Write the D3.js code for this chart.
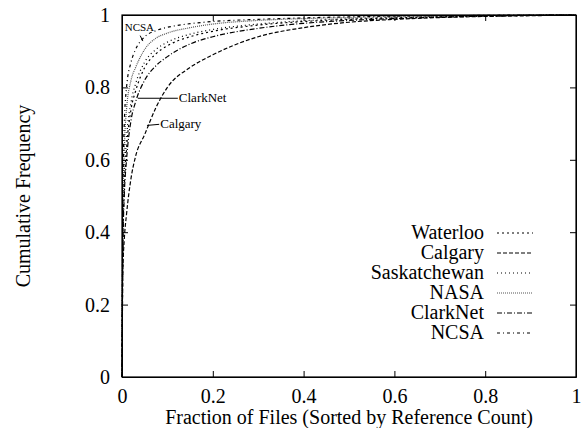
<!DOCTYPE html>
<html>
<head>
<meta charset="utf-8">
<script src="https://cdn.jsdelivr.net/npm/d3@7"></script>
<style>
  body { margin: 0; background: #fff; }
</style>
</head>
<body>
<svg></svg>
<script>
// shared x grid (fraction of files)
const fracs = [0, 0.002, 0.005, 0.01, 0.02, 0.03, 0.05, 0.075, 0.1, 0.15, 0.2, 0.3, 0.4, 0.5, 0.6, 0.7, 0.8, 0.9, 1.0]

// cumulative frequency per trace
const waterloo     = [0, 0.38, 0.52, 0.63, 0.74, 0.79, 0.855, 0.893, 0.915, 0.94, 0.955, 0.972, 0.982, 0.988, 0.992, 0.995, 0.997, 0.999, 1]
const calgary      = [0, 0.30, 0.38, 0.45, 0.55, 0.61, 0.67, 0.745, 0.80, 0.855, 0.89, 0.94, 0.965, 0.98, 0.988, 0.993, 0.996, 0.998, 1]
const saskatchewan = [0, 0.40, 0.55, 0.66, 0.76, 0.81, 0.87, 0.905, 0.925, 0.947, 0.96, 0.975, 0.984, 0.99, 0.994, 0.996, 0.998, 0.999, 1]
const nasa         = [0, 0.45, 0.62, 0.74, 0.82, 0.855, 0.905, 0.936, 0.95, 0.965, 0.975, 0.985, 0.99, 0.993, 0.996, 0.998, 0.999, 1, 1]
const clarknet     = [0, 0.36, 0.50, 0.60, 0.71, 0.76, 0.82, 0.86, 0.885, 0.92, 0.94, 0.963, 0.977, 0.985, 0.99, 0.994, 0.997, 0.999, 1]
const ncsa         = [0, 0.50, 0.70, 0.80, 0.87, 0.905, 0.94, 0.957, 0.966, 0.976, 0.982, 0.988, 0.992, 0.995, 0.997, 0.998, 0.999, 1, 1]

const seriesNames = ['Waterloo', 'Calgary', 'Saskatchewan', 'NASA', 'ClarkNet', 'NCSA']
const seriesVals = [waterloo, calgary, saskatchewan, nasa, clarknet, ncsa]
const dashes = ['2,3', '4,2', '1,3', '1,1', '5,2,1,2', '3,3,1,3']
const strokes = ['#000', '#000', '#000', '#555', '#000', '#000']

const xTicks = [0, 0.2, 0.4, 0.6, 0.8, 1]
const yTicks = [0, 0.2, 0.4, 0.6, 0.8, 1]
const tickText = d => (d === 0 || d === 1) ? String(d) : d.toFixed(1)

// annotation labels: [name, curve x, curve y, label x, label y]
const notes = [
    ['ClarkNet', 0.035, 0.77, 0.123, 0.77],
    ['Calgary', 0.055, 0.695, 0.082, 0.698]
]

const FONT = '"Liberation Serif", "Times New Roman", Times, "DejaVu Serif", serif'

let svgWidth = 582
let svgHeight = 428
const plotL = 122, plotR = 576, plotT = 15, plotB = 377

const svg = d3.select('svg')
    .attr('width', svgWidth)
    .attr('height', svgHeight)
    .attr('font-family', FONT)

const xScale = d3.scaleLinear().domain([0, 1]).range([plotL, plotR])
const yScale = d3.scaleLinear().domain([0, 1]).range([plotB, plotT])

// curves
const line = d3.line()
    .x(d => xScale(d[0]))
    .y(d => yScale(d[1]))
    .curve(d3.curveMonotoneX)

seriesVals.forEach((vals, i) => {
    svg.append('path')
        .datum(fracs.map((f, j) => [f, vals[j]]))
        .attr('d', line)
        .attr('fill', 'none')
        .attr('stroke', strokes[i])
        .attr('stroke-width', 1.2)
        .attr('stroke-dasharray', dashes[i])
})

// axes, ticks inward on all four sides
const xAxis = d3.axisBottom(xScale).tickValues(xTicks).tickFormat(tickText)
    .tickSizeInner(-6).tickSizeOuter(0).tickPadding(12)
svg.append('g').attr('transform', 'translate(0,' + plotB + ')').call(xAxis)

const yAxis = d3.axisLeft(yScale).tickValues(yTicks).tickFormat(tickText)
    .tickSizeInner(-6).tickSizeOuter(0).tickPadding(12)
svg.append('g').attr('transform', 'translate(' + plotL + ',0)').call(yAxis)

svg.append('g').attr('transform', 'translate(0,' + plotT + ')')
    .call(d3.axisTop(xScale).tickValues(xTicks).tickFormat('').tickSizeInner(-6).tickSizeOuter(0))
svg.append('g').attr('transform', 'translate(' + plotR + ',0)')
    .call(d3.axisRight(yScale).tickValues(yTicks).tickFormat('').tickSizeInner(-6).tickSizeOuter(0))

svg.selectAll('g').attr('font-family', FONT)
svg.selectAll('.tick text').attr('font-size', 20).attr('font-family', FONT).attr('fill', '#000')
svg.selectAll('.domain, .tick line').attr('stroke', '#000')

svg.append('rect')
    .attr('x', plotL).attr('y', plotT)
    .attr('width', plotR - plotL).attr('height', plotB - plotT)
    .attr('fill', 'none').attr('stroke', '#000').attr('stroke-width', 1.2)

// axis titles
svg.append('text')
    .attr('x', (plotL + plotR) / 2).attr('y', 424)
    .attr('text-anchor', 'middle').attr('font-size', 20).attr('font-family', FONT)
    .text('Fraction of Files (Sorted by Reference Count)')

svg.append('text')
    .attr('transform', 'translate(30,' + ((plotT + plotB) / 2) + ') rotate(-90)')
    .attr('text-anchor', 'middle').attr('font-size', 20).attr('font-family', FONT)
    .text('Cumulative Frequency')

// legend
seriesNames.forEach((name, i) => {
    const y = 233 + i * 20
    svg.append('text')
        .attr('x', 484).attr('y', y + 6)
        .attr('text-anchor', 'end').attr('font-size', 20).attr('font-family', FONT)
        .text(name)
    svg.append('line')
        .attr('x1', 497).attr('x2', 533).attr('y1', y).attr('y2', y)
        .attr('stroke', strokes[i]).attr('stroke-width', 1.2)
        .attr('stroke-dasharray', dashes[i])
})

// in-plot annotations
notes.forEach(n => {
    svg.append('line')
        .attr('x1', xScale(n[1])).attr('y1', yScale(n[2]))
        .attr('x2', xScale(n[3])).attr('y2', yScale(n[4]))
        .attr('stroke', '#000').attr('stroke-width', 1)
    svg.append('text')
        .attr('x', xScale(n[3]) + 1).attr('y', yScale(n[4]) + 4)
        .attr('font-size', 13).attr('font-family', FONT)
        .text(n[0])
})
svg.append('text')
    .attr('x', xScale(0.006)).attr('y', yScale(0.955))
    .attr('font-size', 11).attr('font-family', FONT)
    .text('NCSA')
svg.append('line')
    .attr('x1', xScale(0.04)).attr('y1', yScale(0.943))
    .attr('x2', xScale(0.046)).attr('y2', yScale(0.928))
    .attr('stroke', '#000').attr('stroke-width', 1)
</script>
</body>
</html>
